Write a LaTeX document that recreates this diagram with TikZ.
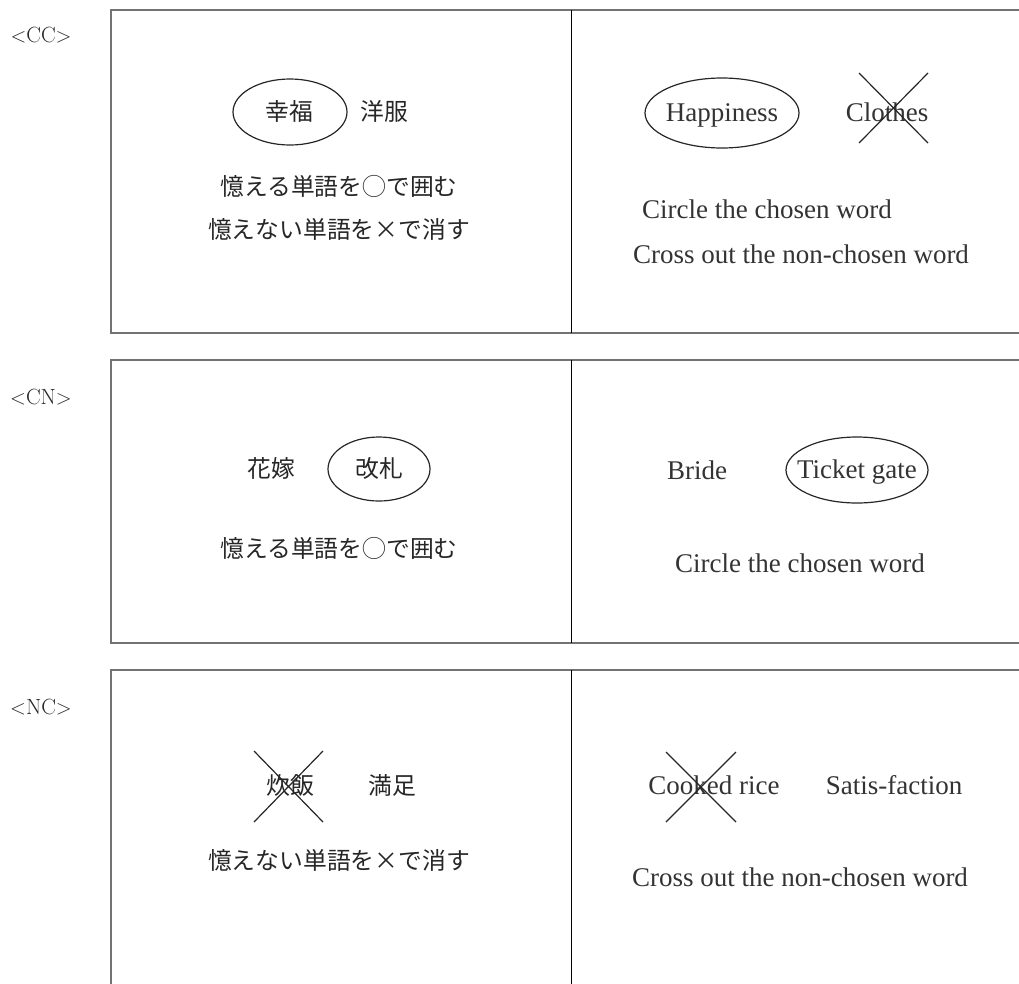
\documentclass[tikz,border=0pt]{standalone}
\usepackage{fontspec}
\newfontfamily\jp{Noto Sans CJK JP}
\newfontfamily\en{Liberation Serif}
\usetikzlibrary{shapes.geometric}
\begin{document}
\begin{tikzpicture}[x=1pt,y=-1pt,
  frame/.style={draw=black!55,line width=1.6pt},
  divider/.style={draw=black,line width=0.9pt},
  jpt/.style={font=\jp\fontsize{23.8}{26}\selectfont,text=black!85,inner sep=0pt},
  ent/.style={font=\en\fontsize{27}{29}\selectfont,text=black!80,inner sep=0pt,text height=18pt,text depth=0pt},
  tag/.style={font=\fontsize{22}{24}\selectfont,text=black!85,inner sep=0pt},
  ring/.style={draw=black!85,line width=1.2pt,ellipse},
  cross/.style={draw=black!85,line width=1.2pt}]
\useasboundingbox (0,0) rectangle (1019,983);
% frames
\draw[frame] (1025,10) -- (111,10) -- (111,333) -- (1025,333);
\draw[divider] (571,10) -- (571,333);
\draw[frame] (1025,360) -- (111,360) -- (111,643) -- (1025,643);
\draw[divider] (571,360) -- (571,643);
\draw[frame] (1025,670) -- (111,670) -- (111,990);
\draw[divider] (571,670) -- (571,990);
% tags
\node[tag] (tcc) at (41,35) {$<$CC$>$};
\node[tag] (tcn) at (41,397) {$<$CN$>$};
\node[tag] (tnc) at (41,707) {$<$NC$>$};
% panel 1
\node[jpt] (kofuku) at (289,111) {幸福};
\draw[ring] (290,112) ellipse [x radius=57,y radius=33];
\node[jpt] (yofuku) at (384,111) {洋服};
\node[jpt] (j1a) at (339,186) {憶える単語を◯で囲む};
\node[jpt] (j1b) at (339,229) {憶えない単語を×で消す};
\node[ent] (happy) at (722,112) {Happiness};
\draw[ring] (722,113) ellipse [x radius=77,y radius=35];
\node[ent] (clothes) at (887,112) {Clothes};
\draw[cross] (859,73) -- (928,143) (928,73) -- (859,143);
\node[ent] (e1a) at (767,209) {Circle the chosen word};
\node[ent] (e1b) at (801,254) {Cross out the non-chosen word};
% panel 2
\node[jpt] (hanayome) at (271,468) {花嫁};
\node[jpt] (kaisatsu) at (379,468) {改札};
\draw[ring] (379,469) ellipse [x radius=51,y radius=32];
\node[jpt] (j2a) at (339,548) {憶える単語を◯で囲む};
\node[ent] (bride) at (697,470) {Bride};
\node[ent] (ticket) at (857,469) {Ticket gate};
\draw[ring] (857,470) ellipse [x radius=71,y radius=33];
\node[ent] (e2a) at (800,563) {Circle the chosen word};
% panel 3
\node[jpt] (suihan) at (290,785) {炊飯};
\draw[cross] (254,751) -- (323,822) (323,751) -- (254,822);
\node[jpt] (manzoku) at (392,785) {満足};
\node[jpt] (j3a) at (339,860) {憶えない単語を×で消す};
\node[ent] (rice) at (714,785) {Cooked rice};
\draw[cross] (666,752) -- (736,822) (736,752) -- (666,822);
\node[ent] (satis) at (894,785) {Satis-faction};
\node[ent] (e3a) at (800,877) {Cross out the non-chosen word};
\end{tikzpicture}
\end{document}
